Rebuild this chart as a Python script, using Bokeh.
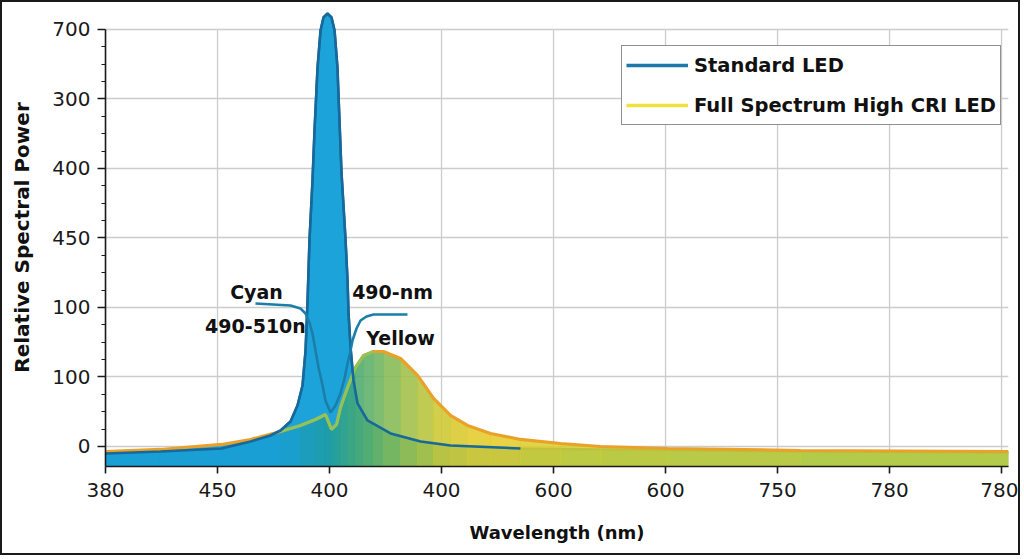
import numpy as np
from bokeh.plotting import figure
from bokeh.models import FixedTicker, Range1d, Legend, LegendItem
from bokeh.core.properties import value
from bokeh.embed import file_html
from bokeh.resources import INLINE

# ---------------- data (positions in axis units: x tick i, y tick j) ----------------
x_tick_labels = ["380", "450", "400", "400", "600", "600", "750", "780", "780"]
y_tick_labels = ["0", "100", "100", "450", "400", "300", "700"]

# Standard LED spectrum
std_x = [0.0, 0.491, 1.036, 1.295, 1.473, 1.563, 1.652, 1.714, 1.759, 1.786, 1.804,
         1.821, 1.848, 1.866, 1.893, 1.920, 1.946, 1.982, 2.018, 2.045, 2.071, 2.089,
         2.107, 2.143, 2.161, 2.170, 2.188, 2.214, 2.250, 2.339, 2.545, 2.813, 3.080,
         3.705, 4.420, 6.205, 8.062]
std_y = [-0.101, -0.072, -0.029, 0.072, 0.158, 0.230, 0.360, 0.590, 0.878, 1.381, 2.101,
         2.964, 3.827, 4.547, 5.453, 5.986, 6.173, 6.230, 6.173, 5.986, 5.453, 4.691,
         3.942, 2.978, 2.388, 1.914, 1.424, 0.950, 0.619, 0.374, 0.187, 0.072, 0.014,
         -0.029, -0.043, -0.072, -0.086]

# Full Spectrum High CRI LED spectrum
full_x = [0.0, 0.491, 1.036, 1.295, 1.563, 1.741, 1.875, 1.964, 2.018, 2.063, 2.098,
          2.161, 2.232, 2.304, 2.393, 2.482, 2.634, 2.786, 2.929, 3.080, 3.232, 3.438,
          3.705, 4.063, 4.420, 5.018, 6.205, 8.062]
full_y = [-0.072, -0.043, 0.029, 0.101, 0.216, 0.302, 0.388, 0.460, 0.245, 0.317, 0.561,
          0.849, 1.137, 1.309, 1.367, 1.367, 1.266, 1.022, 0.691, 0.446, 0.302, 0.187,
          0.101, 0.043, 0.000, -0.029, -0.058, -0.072]

# absorption-like leader curve between the annotations
dip_x = [1.339, 1.652, 1.741, 1.786, 1.821, 1.848, 1.875, 1.902, 1.938, 1.964, 2.009,
         2.054, 2.098, 2.134, 2.161, 2.188, 2.205, 2.241, 2.277, 2.330, 2.393, 2.696]
dip_y = [2.058, 2.029, 1.986, 1.914, 1.784, 1.626, 1.381, 1.137, 0.878, 0.662, 0.489,
         0.590, 0.763, 0.978, 1.194, 1.381, 1.525, 1.698, 1.813, 1.871, 1.899, 1.899]

ann_text = ["Cyan", "490-510n", "490-nm", "Yellow"]
ann_x = [1.348, 1.339, 2.563, 2.634]
ann_y = [2.23, 1.73, 2.216, 1.554]

# ---------------- figure ----------------
Y0, Y1 = -0.288, 6.302
X0, X1 = 0.0, 8.062

p = figure(width=1020, height=555, output_backend="svg", toolbar_location=None,
           x_range=Range1d(X0, X1), y_range=Range1d(Y0, Y1),
           min_border_left=103, min_border_right=14, min_border_top=6,
           min_border_bottom=91)
p.styles = {"border": "2px solid #1a1a1a"}
p.outline_line_color = None
p.background_fill_color = "white"
p.border_fill_color = "white"

FONT = "DejaVu Sans"

# axes
xt = list(range(len(x_tick_labels)))
yt = list(range(len(y_tick_labels)))
p.xaxis.ticker = FixedTicker(ticks=xt)
p.xaxis.major_label_overrides = {i: s for i, s in enumerate(x_tick_labels)}
minor = [t + k * 0.25 for t in yt[:-1] for k in (1, 2, 3)]
p.yaxis.ticker = FixedTicker(ticks=yt, minor_ticks=minor)
p.yaxis.major_label_overrides = {i: s for i, s in enumerate(y_tick_labels)}
p.yaxis.bounds = (Y0, yt[-1])

for ax in (p.xaxis[0], p.yaxis[0]):
    ax.axis_line_color = "#1a1a1a"
    ax.axis_line_width = 1.6
    ax.major_tick_line_color = "#1a1a1a"
    ax.major_tick_line_width = 1.6
    ax.major_tick_in = 0
    ax.major_tick_out = 7
    ax.major_label_text_font = FONT
    ax.major_label_text_font_size = "20px"
    ax.major_label_text_color = "#1a1a1a"
    ax.axis_label_text_font = FONT
    ax.axis_label_text_font_style = "bold"
    ax.axis_label_text_font_size = "18px"
    ax.axis_label_text_color = "#111111"

p.xaxis.minor_tick_line_color = None
p.xaxis.major_label_standoff = 9
p.xaxis.axis_label = "Wavelength (nm)"
p.xaxis.axis_label_standoff = 22
p.yaxis.major_tick_out = 8
p.yaxis.minor_tick_in = 0
p.yaxis.minor_tick_out = 4
p.yaxis.minor_tick_line_color = "#1a1a1a"
p.yaxis.minor_tick_line_width = 1.2
p.yaxis.major_label_standoff = 7
p.yaxis.axis_label = "Relative Spectral Power"
p.yaxis.axis_label_text_font_size = "20px"
p.yaxis.axis_label_standoff = 15

# grid
p.xgrid.visible = False
p.ygrid.grid_line_color = "#cccccc"
p.ygrid.grid_line_width = 1.3
p.segment(x0=xt, y0=[Y0] * len(xt), x1=xt, y1=[yt[-1]] * len(xt),
          line_color="#cccccc", line_width=1.3)

# standard LED fill
p.varea(x=std_x, y1=[Y0] * len(std_x), y2=std_y, fill_color="#1ca4da")
# standard LED outline underneath the full-spectrum fill (shows through faintly)
p.line(std_x, std_y, line_color="#17699c", line_width=2.4)

# full spectrum fill with horizontal colour gradient (strips between read points)
stops_x = [0.0, 1.6, 2.0, 2.25, 2.6, 3.0, 3.4, 4.2, 8.1]
stops_c = [(26, 158, 212), (26, 158, 212), (32, 156, 160), (72, 170, 112),
           (140, 188, 78), (206, 200, 48), (232, 204, 40), (214, 208, 46),
           (198, 210, 56)]
sc = np.array(stops_c, dtype=float)


def grad(xm):
    r = np.interp(xm, stops_x, sc[:, 0])
    g = np.interp(xm, stops_x, sc[:, 1])
    b = np.interp(xm, stops_x, sc[:, 2])
    return "#%02x%02x%02x" % (int(r), int(g), int(b))


xs, ys, cols = [], [], []
for i in range(len(full_x) - 1):
    xs.append([full_x[i], full_x[i + 1], full_x[i + 1], full_x[i]])
    ys.append([full_y[i], full_y[i + 1], Y0, Y0])
    cols.append(grad(0.5 * (full_x[i] + full_x[i + 1])))
p.patches(xs=xs, ys=ys, fill_color=cols, fill_alpha=0.87, line_color=cols,
          line_alpha=0.87, line_width=0.6)

# full spectrum outline: orange, green on the blue-side rise
p.line(full_x, full_y, line_color="#eaa12a", line_width=3.2)
gi = [i for i, v in enumerate(full_x) if 1.55 <= v <= 2.40]
p.line([full_x[i] for i in gi], [full_y[i] for i in gi], line_color="#86c75e",
       line_width=2.6)

# standard LED outline on top where it is visible in the original
si = [i for i, v in enumerate(std_x) if v <= 3.75]
p.line([std_x[i] for i in si], [std_y[i] for i in si], line_color="#17699c",
       line_width=2.6)

# leader curve
p.line(dip_x, dip_y, line_color="#1b7ea8", line_width=2.6)

# annotations
p.text(x=ann_x, y=ann_y, text=ann_text, text_font=value(FONT),
       text_font_style="bold", text_font_size="19px", text_align="center",
       text_baseline="middle", text_color="#111111")

# legend (sample glyphs only; NaN data draws nothing on the plot)
r_std = p.line(x=[np.nan], y=[np.nan], line_color="#1b78a8", line_width=3.5)
r_full = p.line(x=[np.nan], y=[np.nan], line_color="#f0e040", line_width=3.5)
legend = Legend(items=[LegendItem(label="Standard LED", renderers=[r_std]),
                       LegendItem(label="Full Spectrum High CRI LED", renderers=[r_full])],
                location=(516, 341), orientation="vertical")
legend.border_line_color = "#222222"
legend.border_line_width = 1.2
legend.background_fill_color = "white"
legend.background_fill_alpha = 1.0
legend.padding = 4
legend.spacing = 10
legend.margin = 0
legend.glyph_width = 62
legend.glyph_height = 30
legend.label_height = 30
legend.label_standoff = 6
legend.label_text_font = FONT
legend.label_text_font_style = "bold"
legend.label_text_font_size = "19.5px"
legend.label_text_color = "#111111"
p.add_layout(legend, "center")

open("out.html", "w").write(file_html(p, INLINE))
